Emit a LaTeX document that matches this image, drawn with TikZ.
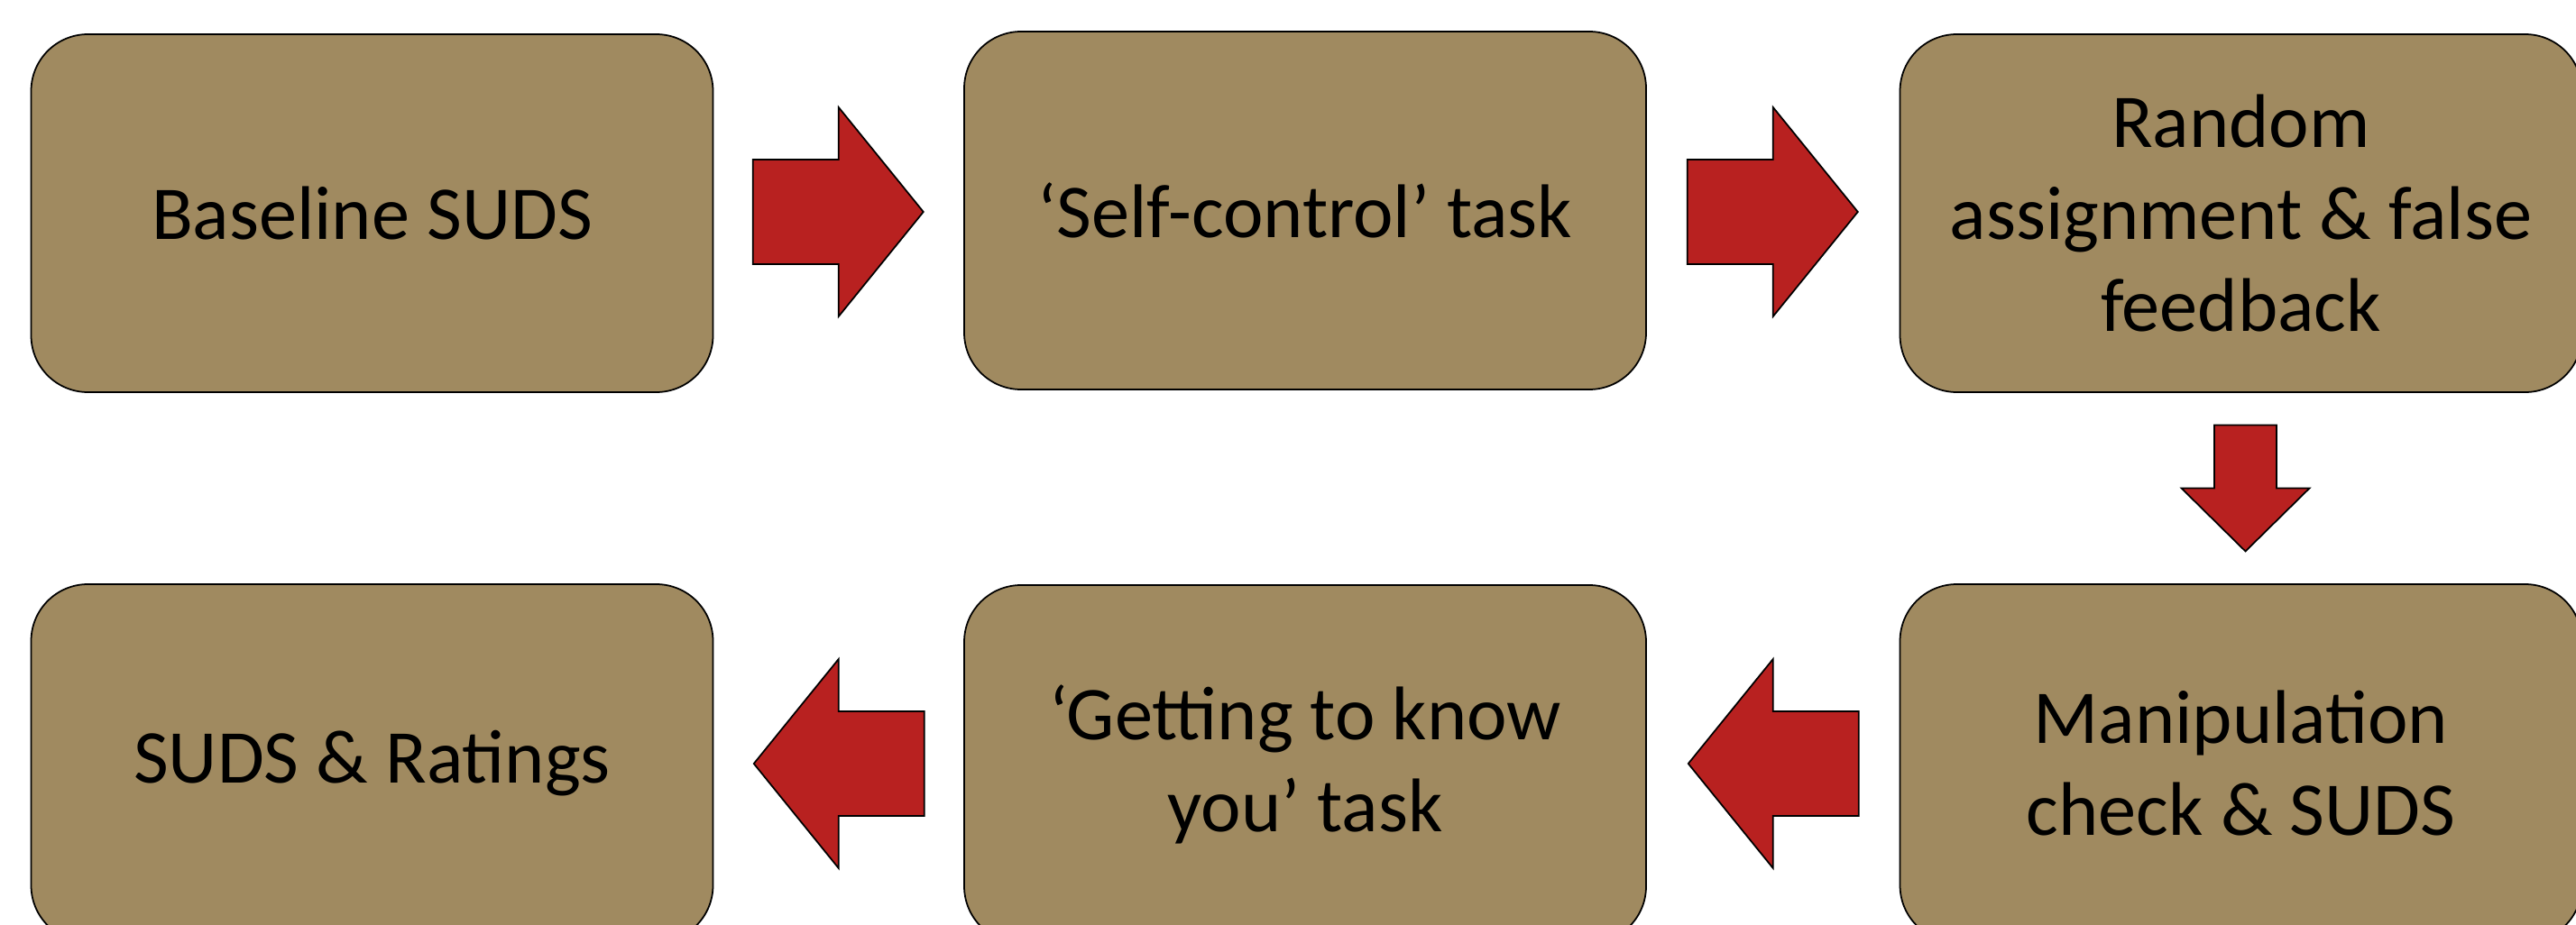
\documentclass[tikz,border=0pt]{standalone}
\usepackage{fontspec}
\setmainfont{Carlito}
\usetikzlibrary{calc}
\definecolor{boxtan}{RGB}{160,138,96}
\definecolor{arrred}{RGB}{184,33,32}
\tikzset{
  stagebox/.style={draw=black, line width=0.5pt, fill=boxtan, rounded corners=0.63cm,
    minimum width=7.56cm, minimum height=3.97cm, align=center, inner sep=0pt,
    font=\fontsize{24}{29}\selectfont},
  blockarr/.style={draw=black, line width=0.5pt, fill=arrred}
}
% #1 centre (head base), #2 rotation, #3 shaft half width, #4 head half width, #5 shaft length, #6 head length
\newcommand\myblockarrow[6]{%
  \begin{scope}[shift={(#1)}, rotate=#2]
    \draw[blockarr] (-#5,#3) -- (0,#3) -- (0,#4) -- (#6,0) -- (0,-#4) -- (0,-#3) -- (-#5,-#3) -- cycle;
  \end{scope}}
\begin{document}
\begin{tikzpicture}
\useasboundingbox (0,0) rectangle (28.56,-10.25);
\clip (0,0) rectangle (28.56,-10.25);
\fill[white] (0,0) rectangle (28.56,-10.25);
\node[stagebox] (b1) at (4.125,-2.365) {Baseline SUDS};
\node[stagebox] (b2) at (14.47,-2.335) {‘Self-control’ task};
\node[stagebox] (b3) at (24.845,-2.365) {Random\\assignment \& false\\feedback};
\node[stagebox] (b6) at (24.845,-8.465) {Manipulation\\check \& SUDS};
\node[stagebox] (b5) at (14.47,-8.475) {‘Getting to know\\you’ task};
\node[stagebox] (b4) at (4.125,-8.465) {SUDS \& Ratings};
\coordinate (a1) at ($(b1.east)!0.5!(b2.west)$);
\coordinate (a2) at ($(b2.east)!0.5!(b3.west)$);
\coordinate (a3) at ($(b3.south)!0.5!(b6.north)+(0.05,0)$);
\coordinate (a4) at ($(b6.west)!0.5!(b5.east)$);
\coordinate (a5) at ($(b5.west)!0.5!(b4.east)$);
\myblockarrow{a1}{0}{0.58}{1.16}{0.95}{0.94}
\myblockarrow{a2}{0}{0.58}{1.16}{0.95}{0.94}
\myblockarrow{a3}{-90}{0.345}{0.71}{0.70}{0.70}
\myblockarrow{a4}{180}{0.58}{1.16}{0.95}{0.94}
\myblockarrow{a5}{180}{0.58}{1.16}{0.95}{0.94}
\end{tikzpicture}
\end{document}
